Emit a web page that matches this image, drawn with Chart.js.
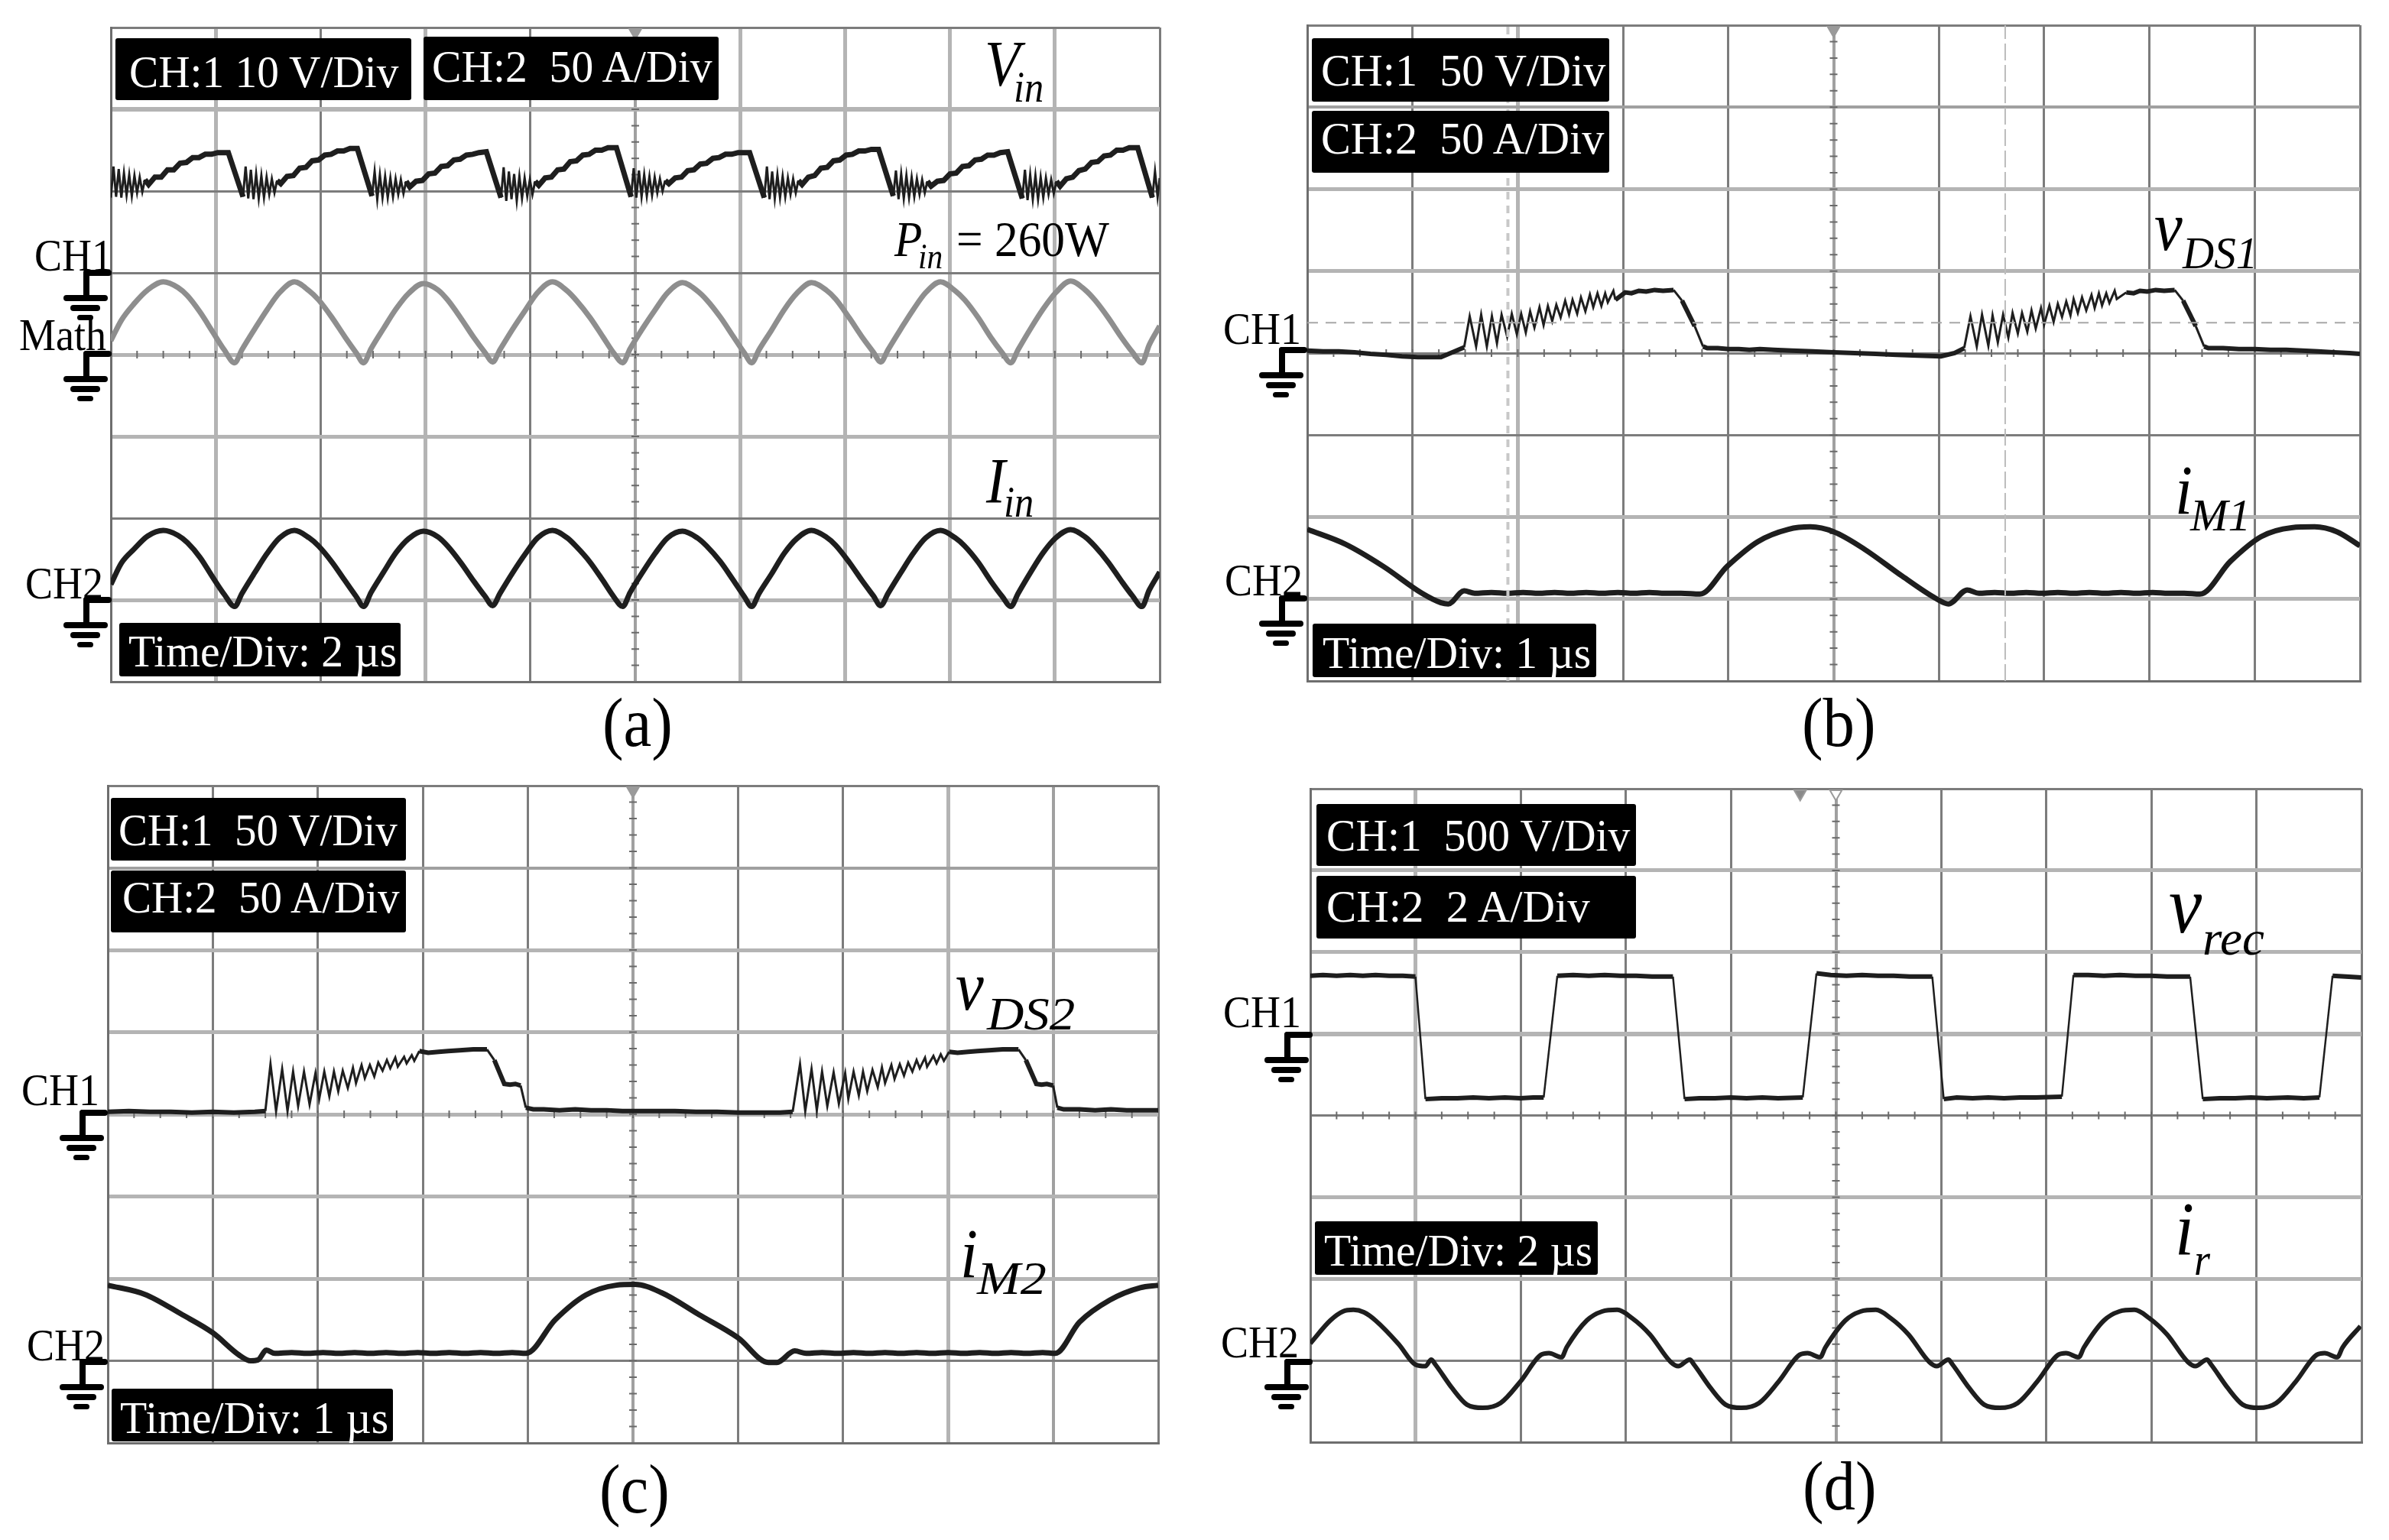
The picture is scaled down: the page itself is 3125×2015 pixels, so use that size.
<!DOCTYPE html>
<html>
<head>
<meta charset="utf-8">
<title>Waveforms</title>
<script src="https://cdn.jsdelivr.net/npm/chart.js@4"></script>
<style>
    html, body { margin: 0; background: #fff; }
    body { position: relative; width: 3125px; height: 2015px; overflow: hidden; font-family: "Liberation Serif", serif; }
    canvas { position: absolute; filter: blur(0.7px); }
    .box { position: absolute; background: #000; border-radius: 3px; }
    .txt { position: absolute; white-space: pre; line-height: 1; transform-origin: left center; color: #000; }
    .bar { position: absolute; background: #000; border-radius: 4px; }
</style>
</head>
<body>
<script>
// all values are in scope divisions: time 0-10 across, volts 0-8 up from the bottom edge

// (a)
var archTimes = [0,.10,.22,.35,.50,.64,.73,.85,.97,1.08,1.18,
    1.25,1.37,1.49,1.61,1.75,1.89,1.98,2.11,2.23,2.34,2.41,
    2.48,2.60,2.72,2.84,2.98,3.12,3.21,3.34,3.46,3.57,3.64,
    3.71,3.83,3.95,4.07,4.21,4.35,4.44,4.57,4.69,4.80,4.88,
    4.95,5.07,5.19,5.31,5.45,5.59,5.68,5.81,5.93,6.04,6.11,
    6.18,6.30,6.42,6.54,6.68,6.82,6.91,7.04,7.16,7.27,7.34,
    7.41,7.53,7.65,7.77,7.91,8.05,8.14,8.27,8.39,8.50,8.58,
    8.65,8.77,8.89,9.01,9.15,9.29,9.38,9.51,9.63,9.74,9.83,
    9.90,10];
var iinVolts = [1.19,1.45,1.62,1.78,1.85,1.79,1.70,1.52,1.28,1.07,.92,
    1.08,1.33,1.57,1.76,1.85,1.76,1.66,1.46,1.24,1.04,.92,
    1.09,1.34,1.58,1.75,1.84,1.77,1.66,1.45,1.23,1.04,.93,
    1.08,1.33,1.56,1.76,1.85,1.76,1.65,1.46,1.24,1.03,.92,
    1.09,1.34,1.57,1.76,1.84,1.76,1.66,1.47,1.25,1.04,.92,
    1.08,1.32,1.57,1.75,1.85,1.77,1.67,1.46,1.24,1.05,.93,
    1.08,1.33,1.57,1.76,1.85,1.76,1.66,1.46,1.23,1.04,.92,
    1.08,1.34,1.58,1.76,1.86,1.77,1.66,1.46,1.24,1.05,.92,
    1.12,1.34];
var mathVolts = [4.17,4.42,4.62,4.79,4.89,4.82,4.72,4.52,4.28,4.06,3.90,
    4.06,4.31,4.55,4.76,4.89,4.78,4.67,4.45,4.22,4.02,3.90,
    4.07,4.32,4.56,4.75,4.87,4.79,4.67,4.44,4.21,4.02,3.91,
    4.06,4.31,4.54,4.76,4.89,4.78,4.66,4.45,4.22,4.01,3.90,
    4.07,4.32,4.55,4.76,4.88,4.78,4.67,4.46,4.23,4.02,3.90,
    4.06,4.30,4.55,4.75,4.88,4.79,4.68,4.45,4.22,4.03,3.91,
    4.06,4.31,4.55,4.76,4.89,4.78,4.67,4.45,4.21,4.02,3.90,
    4.06,4.32,4.56,4.76,4.90,4.79,4.67,4.45,4.22,4.03,3.90,
    4.12,4.35];
var vinTimes = [0,.025,.05,.075,.10,.125,.15,.175,.20,.225,.25,.275,.30,.325,.36,.42,.48,.54,.60,.66,.72,.78,.84,.90,.96,1.02,1.12,
    1.26,1.285,1.31,1.335,1.36,1.385,1.41,1.435,1.46,1.485,1.51,1.535,1.56,1.585,1.62,1.68,1.74,1.80,1.86,1.92,1.98,2.04,2.10,2.16,2.22,2.28,2.35,
    2.49,2.515,2.54,2.565,2.59,2.615,2.64,2.665,2.69,2.715,2.74,2.765,2.79,2.815,2.85,2.91,2.97,3.03,3.09,3.15,3.21,3.27,3.33,3.39,3.45,3.51,3.58,
    3.72,3.745,3.77,3.795,3.82,3.845,3.87,3.895,3.92,3.945,3.97,3.995,4.02,4.045,4.08,4.14,4.20,4.26,4.32,4.38,4.44,4.50,4.56,4.62,4.68,4.74,4.82,
    4.96,4.985,5.01,5.035,5.06,5.085,5.11,5.135,5.16,5.185,5.21,5.235,5.26,5.285,5.32,5.38,5.44,5.50,5.56,5.62,5.68,5.74,5.80,5.86,5.92,5.98,6.09,
    6.23,6.255,6.28,6.305,6.33,6.355,6.38,6.405,6.43,6.455,6.48,6.505,6.53,6.555,6.59,6.65,6.71,6.77,6.83,6.89,6.95,7.01,7.07,7.13,7.19,7.25,7.32,
    7.46,7.485,7.51,7.535,7.56,7.585,7.61,7.635,7.66,7.685,7.71,7.735,7.76,7.785,7.82,7.88,7.94,8.00,8.06,8.12,8.18,8.24,8.30,8.36,8.42,8.48,8.55,
    8.69,8.715,8.74,8.765,8.79,8.815,8.84,8.865,8.89,8.915,8.94,8.965,8.99,9.015,9.05,9.11,9.17,9.23,9.29,9.35,9.41,9.47,9.53,9.59,9.65,9.71,9.79,
    9.93,9.955,9.98,10];
var vinVolts = [5.92,6.30,5.93,6.27,5.92,6.22,5.95,6.20,5.94,6.19,5.98,6.17,5.99,6.14,6.08,6.17,6.17,6.26,6.26,6.34,6.35,6.41,6.41,6.45,6.45,6.47,6.47,
    5.93,6.30,5.91,6.26,5.90,6.21,5.91,6.19,5.92,6.17,5.96,6.15,5.98,6.13,6.09,6.18,6.19,6.28,6.29,6.37,6.38,6.44,6.45,6.49,6.49,6.52,6.52,
    5.94,6.24,5.90,6.20,5.92,6.18,5.92,6.16,5.93,6.15,5.96,6.14,5.97,6.12,6.05,6.12,6.13,6.21,6.22,6.30,6.31,6.38,6.39,6.44,6.45,6.47,6.48,
    5.92,6.29,5.88,6.24,5.90,6.21,5.88,6.18,5.91,6.16,5.94,6.14,5.96,6.12,6.07,6.16,6.17,6.26,6.27,6.36,6.37,6.44,6.45,6.50,6.50,6.53,6.53,
    5.93,6.28,5.92,6.25,5.93,6.20,5.94,6.18,5.95,6.17,5.98,6.15,6.00,6.13,6.09,6.16,6.17,6.25,6.26,6.33,6.34,6.40,6.41,6.45,6.45,6.47,6.47,
    5.92,6.30,5.90,6.24,5.91,6.20,5.92,6.18,5.93,6.16,5.96,6.15,5.98,6.13,6.08,6.17,6.19,6.28,6.29,6.37,6.38,6.44,6.45,6.49,6.49,6.51,6.51,
    5.94,6.25,5.90,6.21,5.91,6.19,5.92,6.17,5.93,6.15,5.96,6.14,5.98,6.12,6.06,6.12,6.13,6.21,6.22,6.30,6.31,6.38,6.39,6.44,6.44,6.47,6.48,
    5.91,6.26,5.89,6.20,5.90,6.19,5.90,6.17,5.92,6.16,5.96,6.14,5.97,6.12,6.06,6.15,6.17,6.25,6.27,6.35,6.36,6.43,6.44,6.50,6.50,6.53,6.53,
    5.92,6.24,5.93,6.16];

// (b)
var vds1Times = [0,.15,.3,.45,.6,.75,.9,1.05,1.27,1.40,1.49,
    1.543,1.604,1.652,1.706,1.754,1.802,1.846,1.899,1.943,1.991,2.032,2.076,2.117,2.158,2.206,2.245,2.286,2.327,2.366,2.407,2.45,2.487,2.52,2.564,2.60,2.642,2.685,2.717,2.757,2.794,2.83,2.855,2.908,2.927,
    3.02,3.08,3.15,3.22,3.30,3.38,3.48,3.56,3.68,3.76,3.80,3.9,4.0,4.1,4.2,4.3,4.43,4.6,4.8,5.0,5.2,5.4,5.6,5.8,6.02,6.15,6.24,
    6.30,6.36,6.41,6.47,6.51,6.56,6.61,6.66,6.70,6.75,6.79,6.84,6.88,6.92,6.97,7.00,7.05,7.09,7.13,7.17,7.21,7.25,7.28,7.32,7.36,7.40,7.45,7.48,7.52,7.55,7.59,7.62,7.67,7.69,
    7.78,7.85,7.91,7.98,8.06,8.14,8.24,8.32,8.44,8.52,8.56,8.7,8.85,9.0,9.15,9.3,9.45,9.6,9.75,9.9,10];
var vds1Volts = [4.03,4.02,4.02,4.01,3.99,3.98,3.96,3.95,3.95,4.02,4.07,
    4.45,4.08,4.47,4.08,4.45,4.12,4.47,4.20,4.48,4.23,4.48,4.25,4.51,4.31,4.56,4.34,4.575,4.39,4.59,4.435,4.64,4.47,4.65,4.48,4.68,4.51,4.715,4.56,4.73,4.575,4.73,4.62,4.76,4.65,
    4.74,4.73,4.76,4.75,4.77,4.76,4.77,4.64,4.33,4.08,4.06,4.06,4.05,4.05,4.04,4.05,4.04,4.03,4.02,4.01,4.00,3.99,3.98,3.97,3.96,4.00,4.06,
    4.45,4.08,4.47,4.09,4.46,4.13,4.47,4.19,4.49,4.24,4.49,4.26,4.52,4.30,4.55,4.35,4.58,4.38,4.60,4.44,4.63,4.46,4.66,4.49,4.68,4.52,4.71,4.55,4.73,4.58,4.73,4.61,4.76,4.66,
    4.74,4.73,4.76,4.75,4.77,4.76,4.77,4.64,4.33,4.08,4.06,4.06,4.05,4.05,4.04,4.04,4.03,4.02,4.01,4.00,3.99];
var im1Times = [0,.36,.72,1.09,1.27,1.34,1.49,1.59,1.75,1.9,2.05,2.2,2.35,2.5,2.65,2.8,2.95,3.1,3.25,3.4,3.55,3.73,3.99,4.28,4.57,4.78,5.0,5.29,5.65,5.98,6.09,6.27,6.38,6.53,6.68,6.83,6.98,7.13,7.28,7.43,7.58,7.73,7.88,8.03,8.18,8.33,8.48,8.77,9.06,9.35,9.57,9.78,10];
var im1Volts = [1.85,1.67,1.40,1.07,.955,.94,1.10,1.07,1.08,1.07,1.08,1.07,1.08,1.07,1.08,1.07,1.08,1.07,1.08,1.07,1.07,1.06,1.40,1.70,1.85,1.88,1.82,1.61,1.28,1.00,.94,1.11,1.07,1.08,1.07,1.08,1.07,1.08,1.07,1.08,1.07,1.08,1.07,1.08,1.07,1.07,1.06,1.46,1.76,1.87,1.88,1.82,1.65];
var cursorLevel = [4.37, 4.37];
var cursorSpan = [0, 10];
var cursorA = [1.906, 1.906];
var cursorB = [6.63, 6.63];
var fullHeight = [0, 8];

// (c)
var vds2Times = [0,.2,.4,.6,.8,1.0,1.2,1.4,1.50,
    1.549,1.602,1.660,1.711,1.764,1.812,1.868,1.921,1.977,2.013,2.061,2.109,2.153,2.194,2.237,2.285,2.334,2.363,2.416,2.447,2.495,2.537,2.575,2.616,2.657,2.689,2.737,2.761,2.821,2.845,2.894,2.918,2.966,
    3.05,3.15,3.24,3.35,3.48,3.61,3.68,3.775,3.83,3.88,3.93,3.98,4.05,4.15,4.3,4.45,4.6,4.75,4.9,5.05,5.2,5.4,5.6,5.8,6.0,6.2,6.4,6.52,
    6.59,6.64,6.70,6.75,6.80,6.85,6.91,6.96,7.02,7.05,7.10,7.15,7.19,7.23,7.28,7.33,7.37,7.40,7.46,7.49,7.54,7.58,7.62,7.66,7.70,7.73,7.78,7.80,7.86,7.89,7.93,7.96,8.01,
    8.09,8.19,8.28,8.39,8.52,8.67,8.74,8.84,8.89,8.94,9.00,9.04,9.1,9.25,9.4,9.55,9.7,9.85,10];
var vds2Volts = [4.03,4.04,4.03,4.03,4.02,4.03,4.02,4.03,4.04,
    4.61,4.04,4.55,4.04,4.52,4.10,4.52,4.12,4.50,4.19,4.52,4.22,4.52,4.28,4.53,4.32,4.565,4.38,4.60,4.44,4.60,4.46,4.63,4.53,4.66,4.56,4.69,4.58,4.70,4.62,4.72,4.65,4.77,
    4.75,4.76,4.77,4.78,4.79,4.79,4.66,4.37,4.36,4.37,4.35,4.08,4.06,4.06,4.05,4.06,4.05,4.05,4.04,4.04,4.04,4.04,4.03,4.03,4.02,4.02,4.02,4.03,
    4.61,4.04,4.55,4.05,4.52,4.10,4.51,4.13,4.50,4.19,4.52,4.23,4.52,4.28,4.54,4.33,4.57,4.38,4.60,4.43,4.61,4.47,4.63,4.52,4.66,4.56,4.69,4.58,4.71,4.62,4.73,4.65,4.76,
    4.75,4.76,4.77,4.78,4.79,4.79,4.66,4.37,4.36,4.37,4.35,4.08,4.06,4.06,4.05,4.06,4.05,4.05,4.05];
var im2Times = [0,.35,.71,1.0,1.25,1.36,1.43,1.51,1.59,1.75,1.9,2.05,2.2,2.35,2.5,2.65,2.8,2.95,3.1,3.25,3.4,3.55,3.7,3.85,3.98,4.26,4.55,4.84,5.02,5.27,5.63,6.0,6.29,6.37,6.54,6.65,6.8,6.95,7.1,7.25,7.4,7.55,7.7,7.85,8.0,8.15,8.3,8.45,8.6,8.75,8.9,9.02,9.25,9.54,9.83,10];
var im2Volts = [1.92,1.81,1.56,1.34,1.07,1.00,1.01,1.13,1.09,1.10,1.09,1.10,1.09,1.10,1.09,1.10,1.09,1.10,1.09,1.10,1.09,1.10,1.09,1.10,1.09,1.50,1.80,1.92,1.93,1.83,1.56,1.28,.98,.98,1.12,1.09,1.10,1.09,1.10,1.09,1.10,1.09,1.10,1.09,1.10,1.09,1.10,1.09,1.10,1.09,1.10,1.09,1.47,1.74,1.89,1.92];

// (d)
var vrecTimes = [0,.12,.25,.38,.5,.62,.75,.88,1.0,
    1.095,1.25,1.4,1.55,1.7,1.85,2.0,2.12,2.22,
    2.35,2.5,2.65,2.8,2.95,3.1,3.25,3.45,
    3.56,3.7,3.85,4.0,4.15,4.3,4.45,4.685,
    4.815,4.95,5.1,5.25,5.4,5.55,5.7,5.917,
    6.026,6.15,6.3,6.45,6.6,6.75,6.9,7.15,
    7.26,7.4,7.55,7.7,7.85,8.0,8.15,8.37,
    8.49,8.65,8.8,8.95,9.1,9.3,9.45,9.60,
    9.725,9.85,10];
var vrecVolts = [5.71,5.72,5.71,5.72,5.71,5.72,5.71,5.71,5.70,
    4.20,4.21,4.21,4.22,4.21,4.22,4.21,4.22,4.22,
    5.71,5.72,5.71,5.72,5.71,5.71,5.70,5.70,
    4.20,4.21,4.21,4.22,4.21,4.22,4.21,4.22,
    5.74,5.72,5.71,5.72,5.71,5.71,5.70,5.70,
    4.20,4.22,4.21,4.22,4.21,4.22,4.22,4.23,
    5.72,5.72,5.71,5.72,5.71,5.71,5.70,5.70,
    4.20,4.21,4.21,4.22,4.21,4.22,4.21,4.22,
    5.71,5.70,5.69];
var irTimes = [0,.19,.31,.41,.51,.62,.84,1.0,1.095,1.15,1.19,1.35,1.49,1.64,1.81,2.0,2.195,2.27,2.39,2.44,2.63,2.775,2.92,3.06,3.23,3.43,3.5,3.61,3.65,
    3.81,3.95,4.10,4.27,4.46,4.655,4.73,4.85,4.90,5.09,5.235,5.38,5.52,5.69,5.89,5.96,6.07,6.11,
    6.27,6.41,6.56,6.73,6.92,7.115,7.19,7.31,7.36,7.55,7.695,7.84,7.98,8.15,8.35,8.42,8.53,8.57,
    8.73,8.87,9.02,9.19,9.38,9.575,9.65,9.77,9.82,9.99];
var irVolts = [1.21,1.49,1.60,1.62,1.59,1.49,1.20,.95,.93,1.01,.95,.66,.46,.42,.48,.745,1.07,1.09,1.04,1.165,1.49,1.60,1.62,1.52,1.32,.98,.93,1.01,.95,
    .66,.46,.42,.48,.75,1.07,1.09,1.04,1.16,1.49,1.60,1.62,1.52,1.32,.98,.93,1.01,.95,
    .66,.46,.42,.48,.75,1.07,1.09,1.04,1.16,1.49,1.60,1.62,1.52,1.32,.98,.93,1.01,.95,
    .66,.46,.42,.48,.75,1.07,1.09,1.04,1.16,1.42];

// panel frames on the page and how heavy each grid line came out in the photo
var frames = {
    a: { left: 145, top: 36, width: 1372, height: 856, xGrid: [3,5,3,5,3,4,5,5,5,5,3], yGrid: [3,5,3,5,5,3,3,6,3] },
    b: { left: 1710, top: 33, width: 1377, height: 858, xGrid: [3,3,5,3,3,4,3,3,3,3,3], yGrid: [3,5,5,3,3,5,5,4,3] },
    c: { left: 141, top: 1028, width: 1374, height: 860, xGrid: [3,3,3,3,3,4,3,3,5,4,3], yGrid: [3,3,5,5,5,5,5,4,3] },
    d: { left: 1714, top: 1032, width: 1375, height: 855, xGrid: [3,5,3,3,3,4,3,3,3,3,3], yGrid: [3,3,5,5,3,6,5,5,3] }
};
var pad = 6;

function gridColor(w) {
    if (w >= 5) return '#b4b4b4';
    if (w == 4) return '#a0a0a0';
    return '#7c7c7c';
}

function trace(times, volts, width, colour, smooth, thin, ringing) {
    return {
        data: times.map(function (t, i) { return { x: t, y: volts[i] }; }),
        borderColor: colour, borderWidth: width, pointRadius: 0,
        cubicInterpolationMode: smooth ? 'monotone' : 'default', tension: 0,
        // steep edges look thin on the scope, and so do the turn-on ringing teeth
        segment: { borderWidth: function (c) {
            var dx = Math.abs(c.p1.parsed.x - c.p0.parsed.x);
            var dy = Math.abs(c.p1.parsed.y - c.p0.parsed.y);
            if (dy / dx > 5 || (ringing && dx < .09 && dy > .06)) return thin || 2.5;
            return width;
        } }
    };
}

function cursor(times, volts, width, colour, dash) {
    return { data: times.map(function (t, i) { return { x: t, y: volts[i] }; }),
        borderColor: colour, borderWidth: width, borderDash: dash, pointRadius: 0 };
}

function marker(t, fill) {
    return { data: [{ x: t, y: 7.94 }], showLine: false, pointStyle: 'triangle', rotation: 180,
        pointRadius: 9, pointBackgroundColor: fill, pointBorderColor: '#9a9a9a', pointBorderWidth: 2 };
}

// small graticule marks along the two centre lines
var graticule = {
    id: 'graticule',
    beforeDatasetsDraw: function (chart) {
        var g = chart.ctx, xs = chart.scales.x, ys = chart.scales.y;
        g.save();
        g.strokeStyle = '#6a6a6a';
        g.lineWidth = 2;
        g.beginPath();
        for (var i = 1; i < 40; i++) {
            var px = xs.getPixelForValue(i / 4);
            g.moveTo(px, ys.getPixelForValue(4) - 5);
            g.lineTo(px, ys.getPixelForValue(4) + 5);
        }
        for (var j = 1; j < 40; j++) {
            var py = ys.getPixelForValue(j / 5);
            g.moveTo(xs.getPixelForValue(5) - 5, py);
            g.lineTo(xs.getPixelForValue(5) + 5, py);
        }
        g.stroke();
        g.restore();
    }
};

function panel(frame, datasets) {
    var cv = document.createElement('canvas');
    cv.style.left = (frame.left - pad) + 'px';
    cv.style.top = (frame.top - pad) + 'px';
    cv.style.width = (frame.width + pad * 2) + 'px';
    cv.style.height = (frame.height + pad * 2) + 'px';
    cv.width = frame.width + pad * 2;
    cv.height = frame.height + pad * 2;
    document.body.appendChild(cv);
    new Chart(cv.getContext('2d'), {
        type: 'line',
        data: { datasets: datasets },
        plugins: [graticule],
        options: {
            responsive: false, animation: false, devicePixelRatio: 1,
            layout: { padding: pad, autoPadding: false },
            plugins: { legend: { display: false }, tooltip: { enabled: false } },
            scales: {
                x: {
                    type: 'linear', min: 0, max: 10,
                    afterFit: function (s) { s.height = 0; },
                    ticks: { display: false, stepSize: 1 },
                    border: { color: '#6e6e6e', width: 3 },
                    grid: { drawTicks: false,
                        lineWidth: function (c) { return frame.xGrid[c.index]; },
                        color: function (c) { return gridColor(frame.xGrid[c.index]); } }
                },
                y: {
                    min: 0, max: 8,
                    afterFit: function (s) { s.width = 0; },
                    ticks: { display: false, stepSize: 1 },
                    border: { color: '#6e6e6e', width: 3 },
                    grid: { drawTicks: false,
                        lineWidth: function (c) { return frame.yGrid[c.index]; },
                        color: function (c) { return gridColor(frame.yGrid[c.index]); } }
                }
            }
        }
    });
}

var ink = '#1e1e1e';
panel(frames.a, [
    marker(5, '#9a9a9a'),
    trace(archTimes, mathVolts, 7, '#8e8e8e', true),
    trace(archTimes, iinVolts, 7, ink, true),
    trace(vinTimes, vinVolts, 7, ink, false, 3)
]);
panel(frames.b, [
    marker(5, '#9a9a9a'),
    cursor(cursorSpan, cursorLevel, 2, '#a8a8a8', [14, 10]),
    cursor(cursorA, fullHeight, 4, '#c8c8c8', [10, 8]),
    cursor(cursorB, fullHeight, 2, '#bcbcbc', [22, 6]),
    trace(vds1Times, vds1Volts, 6, ink, false, 3, true),
    trace(im1Times, im1Volts, 7, ink, true)
]);
panel(frames.c, [
    marker(5, '#9a9a9a'),
    trace(vds2Times, vds2Volts, 6, ink, false, 3, true),
    trace(im2Times, im2Volts, 7, ink, true)
]);
panel(frames.d, [
    marker(4.66, '#8a8a8a'),
    marker(5, '#ffffff'),
    trace(vrecTimes, vrecVolts, 6, ink),
    trace(irTimes, irVolts, 6, ink, true)
]);

// black read-out boxes: left, top, width, height
var boxes = [
    [151,50,387,81],[554,48,386,83],[156,815,368,70],
    [1716,50,389,83],[1716,145,389,81],[1717,816,371,70],
    [145,1044,386,82],[145,1139,386,81],[146,1817,368,69],
    [1722,1052,418,81],[1722,1146,418,82],[1720,1598,370,70]
];
// text, left, baseline, size, width squeeze, italic, colour
var labels = [
    ['CH:1 10 V/Div',169,114,60,.955,0,'#fff'],['CH:2  50 A/Div',565,107,60,.96,0,'#fff'],['Time/Div: 2 µs',168,872,60,.96,0,'#fff'],
    ['V',1288,112,84,.9,1],['in',1326,133,56,.9,1],
    ['P',1170,335,66,.9,1],['in',1201,352,46,.9,1],['= 260W',1251,335,66,.93,0],
    ['I',1290,658,84,.9,1],['in',1313,676,56,.9,1],
    ['CH1',45,354,60,.9],['Math',25,458,60,.9],['CH2',33,783,60,.9],['(a)',788,976,92,.9],

    ['CH:1  50 V/Div',1728,112,60,.97,0,'#fff'],['CH:2  50 A/Div',1728,201,60,.97,0,'#fff'],['Time/Div: 1 µs',1730,874,60,.96,0,'#fff'],
    ['v',2818,327,92,.9,1],['DS1',2855,351,60,.95,1],['i',2845,672,92,.9,1],['M1',2865,694,60,.99,1],
    ['CH1',1600,450,60,.9],['CH2',1602,779,60,.9],['(b)',2357,976,92,.9],

    ['CH:1  50 V/Div',155,1106,60,.95,0,'#fff'],['CH:2  50 A/Div',160,1194,60,.95,0,'#fff'],['Time/Div: 1 µs',157,1875,60,.96,0,'#fff'],
    ['v',1250,1321,92,.9,1],['DS2',1291,1347,62,1.08,1],['i',1256,1671,92,.9,1],['M2',1278,1693,62,1.1,1],
    ['CH1',28,1446,60,.9],['CH2',35,1780,60,.9],['(c)',784,1979,92,.9],

    ['CH:1  500 V/Div',1735,1113,60,.96,0,'#fff'],['CH:2  2 A/Div',1735,1206,60,.98,0,'#fff'],['Time/Div: 2 µs',1732,1656,60,.96,0,'#fff'],
    ['v',2837,1220,108,.9,1],['rec',2881,1250,64,1.02,1],['i',2845,1642,100,.9,1],['r',2870,1668,60,.9,1],
    ['CH1',1600,1344,60,.9],['CH2',1597,1776,60,.9],['(d)',2358,1975,92,.9]
];
// ground symbols: right end of the arm, arm height
var grounds = [[146,357],[146,463],[146,785],[1710,458],[1710,783],[141,1456],[141,1782],[1717,1354],[1717,1782]];

boxes.forEach(function (b) {
    var d = document.createElement('div');
    d.className = 'box';
    d.style.cssText = 'left:' + b[0] + 'px;top:' + b[1] + 'px;width:' + b[2] + 'px;height:' + b[3] + 'px';
    document.body.appendChild(d);
});

function bar(x, y, w, h) {
    var d = document.createElement('div');
    d.className = 'bar';
    d.style.cssText = 'left:' + x + 'px;top:' + y + 'px;width:' + w + 'px;height:' + h + 'px';
    document.body.appendChild(d);
}
grounds.forEach(function (g) {
    bar(g[0] - 37, g[1] - 4, 37, 8);
    bar(g[0] - 37, g[1] - 4, 8, 38);
    bar(g[0] - 63, g[1] + 29, 58, 8);
    bar(g[0] - 54, g[1] + 42, 39, 8);
    bar(g[0] - 45, g[1] + 55, 21, 7);
});

labels.forEach(function (l) {
    var d = document.createElement('div');
    d.className = 'txt';
    d.textContent = l[0];
    // liberation serif baseline sits .8375 em below the top of a line-height:1 box
    d.style.cssText = 'left:' + l[1] + 'px;top:' + (l[2] - l[3] * .8375) + 'px;font-size:' + l[3] + 'px;' +
        'transform:scaleX(' + l[4] + ');' + (l[5] ? 'font-style:italic;' : '') + (l[6] ? 'color:' + l[6] : '');
    document.body.appendChild(d);
});
</script>
</body>
</html>
